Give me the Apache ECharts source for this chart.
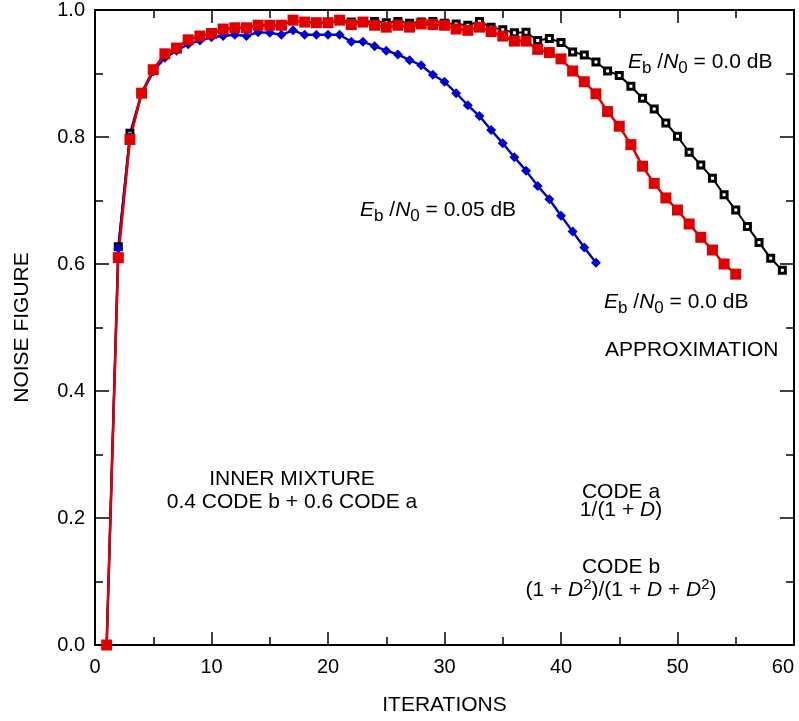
<!DOCTYPE html>
<html>
<head>
<meta charset="utf-8">
<script src="https://cdn.jsdelivr.net/npm/echarts@6/dist/echarts.min.js"></script>
<style>
html,body{margin:0;padding:0;background:#fff;}
#chart{width:799px;height:721px;}
</style>
</head>
<body>
<div id="chart"></div>
<script>
// Noise figure vs. iterations (iteration number = index + 1)
var exactEbN0_00 = [0.0,0.627,0.806,0.870,0.906,0.931,0.940,0.953,0.959,0.963,
  0.970,0.972,0.972,0.976,0.976,0.976,0.984,0.981,0.980,0.980,
  0.984,0.981,0.982,0.982,0.980,0.982,0.979,0.981,0.982,0.979,
  0.978,0.976,0.982,0.973,0.969,0.964,0.965,0.952,0.955,0.949,
  0.934,0.929,0.918,0.904,0.897,0.880,0.861,0.844,0.822,0.801,
  0.776,0.756,0.735,0.709,0.685,0.659,0.634,0.609,0.590];
var exactEbN0_005 = [0.0,0.625,0.800,0.868,0.903,0.925,0.936,0.946,0.952,0.957,
  0.959,0.961,0.959,0.965,0.964,0.961,0.968,0.961,0.961,0.961,
  0.961,0.950,0.950,0.943,0.936,0.930,0.921,0.913,0.898,0.887,
  0.869,0.850,0.833,0.811,0.790,0.768,0.747,0.723,0.702,0.676,
  0.651,0.626,0.602];
var approxEbN0_00 = [0.0,0.610,0.796,0.869,0.906,0.931,0.940,0.953,0.959,0.963,
  0.970,0.972,0.972,0.976,0.976,0.976,0.984,0.981,0.980,0.980,
  0.984,0.977,0.981,0.976,0.973,0.976,0.973,0.978,0.977,0.976,
  0.970,0.968,0.973,0.966,0.959,0.951,0.951,0.938,0.933,0.923,
  0.904,0.887,0.868,0.840,0.817,0.788,0.754,0.727,0.704,0.685,
  0.663,0.642,0.622,0.600,0.584];
var xTicks = [0,10,20,30,40,50,60];
var yTicks = [0.0,0.2,0.4,0.6,0.8,1.0];

function pairs(arr){ return arr.map(function(v,i){ return [i+1, v]; }); }

var FF = '"Liberation Sans", Arial, Helvetica, sans-serif';
// text segment styles: size, italic, vertical offset (sub/superscript)
var SEG = {
  n:{size:21, italic:false, dy:0},
  i:{size:21, italic:true,  dy:0},
  s:{size:17, italic:false, dy:6.5},
  u:{size:15, italic:false, dy:-5}
};
var mctx = document.createElement('canvas').getContext('2d');
function segFont(st){ return (st.italic?'italic ':'') + st.size + 'px ' + FF; }
function segWidth(t, st){ mctx.font = segFont(st); return mctx.measureText(t).width; }
// segs: [[styleKey, text], ...]
function line(x, y, segs, align){
  var total = 0;
  segs.forEach(function(s){ total += segWidth(s[1], SEG[s[0]]); });
  var cx = align === 'center' ? x - total/2 : x;
  var out = [];
  segs.forEach(function(s){
    var st = SEG[s[0]];
    out.push({type:'text', x:cx, y:y + st.dy, z:100, silent:true,
      style:{text:s[1], fontSize:st.size, fontStyle:st.italic?'italic':'normal',
        fontFamily:FF, fill:'#000', align:'left', verticalAlign:'middle'}});
    cx += segWidth(s[1], st);
  });
  return out;
}
var ebn0 = function(val){ return [['i','E'],['s','b'],['n',' /'],['i','N'],['s','0'],['n',' = ' + val + ' dB']]; };

var axisCommon = {
  type:'value', min:0, max:60, interval:10,
  axisLine:{show:true, onZero:false, lineStyle:{color:'#000', width:2}},
  axisTick:{show:true, inside:true, length:13, lineStyle:{color:'#000', width:1.5}},
  minorTick:{show:true, splitNumber:2, length:8, lineStyle:{color:'#000', width:1.5}},
  splitLine:{show:false}
};
var yCommon = {
  type:'value', min:0, max:1, interval:0.2,
  axisLine:{show:true, onZero:false, lineStyle:{color:'#000', width:2}},
  axisTick:{show:true, inside:true, length:14, lineStyle:{color:'#000', width:1.5}},
  minorTick:{show:true, splitNumber:2, length:8, lineStyle:{color:'#000', width:1.5}},
  splitLine:{show:false}
};

var graphics = [].concat(
  line(628, 62, ebn0('0.0')),
  line(360, 210, ebn0('0.05')),
  line(604, 302, ebn0('0.0')),
  line(605, 350, [['n','APPROXIMATION']]),
  line(292, 479, [['n','INNER MIXTURE']], 'center'),
  line(292, 502, [['n','0.4 CODE b + 0.6 CODE a']], 'center'),
  line(621, 492, [['n','CODE a']], 'center'),
  line(621, 510, [['n','1/(1 + '],['i','D'],['n',')']], 'center'),
  line(621, 567, [['n','CODE b']], 'center'),
  line(621, 590, [['n','(1 + '],['i','D'],['u','2'],['n',')/(1 + '],['i','D'],['n',' + '],['i','D'],['u','2'],['n',')']], 'center')
);

var chart = echarts.init(document.getElementById('chart'), null, {renderer:'canvas'});
chart.setOption({
  animation:false,
  backgroundColor:'#fff',
  grid:{left:95, right:5, top:7, bottom:75, containLabel:false},
  xAxis:[
    Object.assign({}, axisCommon, {position:'bottom',
      name:'ITERATIONS', nameLocation:'middle', nameGap:50,
      nameTextStyle:{fontSize:21, fontFamily:FF, color:'#000'},
      axisLabel:{show:true, fontSize:20, fontFamily:FF, color:'#000', margin:12,
        alignMaxLabel:'right',
        formatter:function(v){ return xTicks.indexOf(v)>=0 ? String(v) : ''; }}}),
    Object.assign({}, axisCommon, {position:'top', axisLabel:{show:false}})
  ],
  yAxis:[
    Object.assign({}, yCommon, {position:'left',
      name:'NOISE FIGURE', nameLocation:'middle', nameGap:62, nameRotate:90,
      nameTextStyle:{fontSize:21, fontFamily:FF, color:'#000'},
      axisLabel:{show:true, fontSize:20, fontFamily:FF, color:'#000', margin:10,
        formatter:function(v){
          for (var k=0;k<yTicks.length;k++){ if (Math.abs(yTicks[k]-v)<1e-9) return yTicks[k].toFixed(1); }
          return '';
        }}}),
    Object.assign({}, yCommon, {position:'right', axisLabel:{show:false}})
  ],
  series:[
    {type:'line', name:'Eb/N0 = 0.0 dB', data:pairs(exactEbN0_00), xAxisIndex:0, yAxisIndex:0,
      symbol:'rect', symbolSize:6, showAllSymbol:true,
      lineStyle:{color:'#000', width:2},
      itemStyle:{color:'#fff', borderColor:'#000', borderWidth:3}},
    {type:'line', name:'Eb/N0 = 0.05 dB', data:pairs(exactEbN0_005), xAxisIndex:0, yAxisIndex:0,
      symbol:'diamond', symbolSize:10, showAllSymbol:true,
      lineStyle:{color:'#0000cc', width:2.4},
      itemStyle:{color:'#0000cc', borderWidth:0}},
    {type:'line', name:'Approximation', data:pairs(approxEbN0_00), xAxisIndex:0, yAxisIndex:0,
      symbol:'rect', symbolSize:11, showAllSymbol:true,
      lineStyle:{color:'#e00000', width:2.5},
      itemStyle:{color:'#e00000', borderWidth:0}}
  ],
  graphic: graphics
});
</script>
</body>
</html>
